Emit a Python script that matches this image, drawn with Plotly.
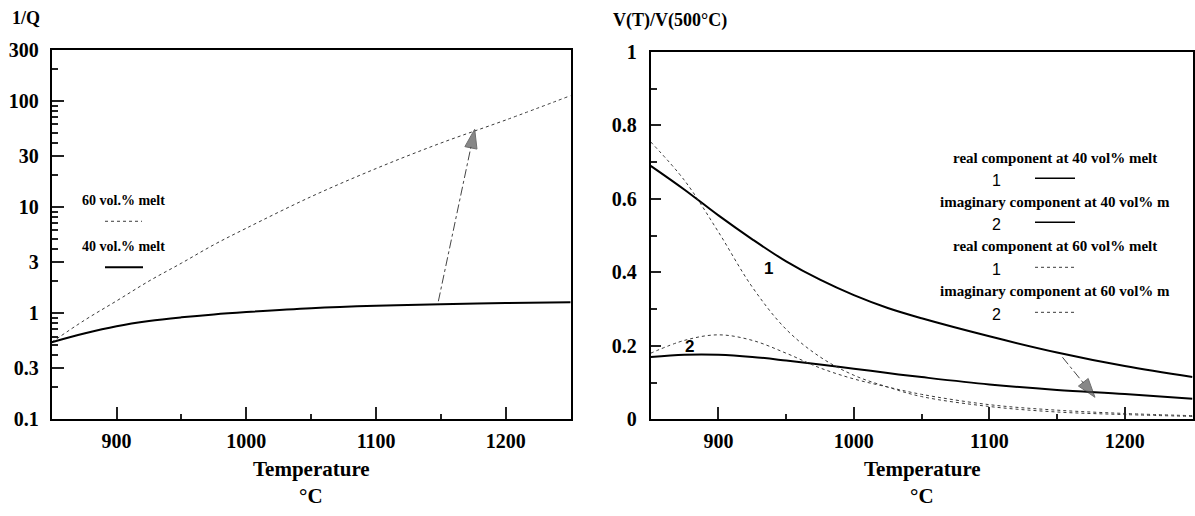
import plotly.graph_objects as go
import math

# ---------------- data ----------------
# Left panel: 1/Q versus temperature
temp_q = [850, 875, 900, 925, 950, 975, 1000, 1050, 1100, 1150, 1200, 1250]
q_melt60 = [0.53, 0.85, 1.3, 2.0, 2.95, 4.4, 6.3, 12.5, 23, 40, 66, 112]
q_melt40 = [0.53, 0.64, 0.75, 0.84, 0.91, 0.97, 1.02, 1.11, 1.17, 1.21, 1.24, 1.26]

# Right panel: V(T)/V(500°C)
temp_v = [850, 875, 900, 925, 950, 975, 1000, 1025, 1050, 1100, 1150, 1200, 1250]
real40 = [0.69, 0.625, 0.555, 0.49, 0.43, 0.38, 0.338, 0.303, 0.275, 0.226, 0.182, 0.145, 0.115]
imag40 = [0.170, 0.176, 0.176, 0.170, 0.160, 0.149, 0.138, 0.126, 0.115, 0.095, 0.080, 0.069, 0.056]
real60 = [0.755, 0.65, 0.51, 0.36, 0.245, 0.17, 0.12, 0.088, 0.062, 0.035, 0.020, 0.013, 0.008]
imag60 = [0.18, 0.215, 0.23, 0.215, 0.18, 0.14, 0.11, 0.088, 0.068, 0.040, 0.025, 0.016, 0.010]

# arrows (tail -> tip), data units
arrow_q_T = [1148, 1176]
arrow_q_v = [1.29, 54]
arrow_v_T = [1154, 1178]
arrow_v_v = [0.169, 0.06]

# tick labels
q_ticks = [0.1, 0.3, 1, 3, 10, 30, 100, 300]
q_ticktext = ["0.1", "0.3", "1", "3", "10", "30", "100", "300"]
q_minor = [0.2, 0.4, 0.5, 0.6, 0.7, 0.8, 0.9, 2, 4, 5, 6, 7, 8, 9,
           20, 40, 50, 60, 70, 80, 90, 200]
t_ticks = [900, 1000, 1100, 1200]
t_minor = [950, 1050, 1150]
v_ticks = [0, 0.2, 0.4, 0.6, 0.8, 1]
v_ticktext = ["0", "0.2", "0.4", "0.6", "0.8", "1"]
v_minor = [0.1, 0.3, 0.5, 0.7, 0.9]

W, H = 1195, 516
SERIF = "Liberation Serif, Times New Roman, serif"
SANS = "Liberation Sans, Arial, sans-serif"


def px(x):
    return x / W


def py(y):
    # y in target picture pixels; compensates the observed vertical mapping of the render
    yf = (y - 10.8) / 0.957
    return 1 - yf / H


fig = go.Figure()
solid = dict(color="black", width=2)
dotted = dict(color="#3a3a3a", width=1, dash="dot")

fig.add_trace(go.Scatter(x=temp_q, y=q_melt60, mode="lines", line=dotted,
                         line_shape="spline", xaxis="x", yaxis="y", name="60 vol.% melt"))
fig.add_trace(go.Scatter(x=temp_q, y=q_melt40, mode="lines", line=solid,
                         line_shape="spline", xaxis="x", yaxis="y", name="40 vol.% melt"))
fig.add_trace(go.Scatter(x=temp_v, y=real40, mode="lines", line=solid, line_shape="spline",
                         xaxis="x2", yaxis="y2", name="real component at 40 vol% melt"))
fig.add_trace(go.Scatter(x=temp_v, y=imag40, mode="lines", line=solid, line_shape="spline",
                         xaxis="x2", yaxis="y2", name="imaginary component at 40 vol% m"))
fig.add_trace(go.Scatter(x=temp_v, y=real60, mode="lines", line=dotted, line_shape="spline",
                         xaxis="x2", yaxis="y2", name="real component at 60 vol% melt"))
fig.add_trace(go.Scatter(x=temp_v, y=imag60, mode="lines", line=dotted, line_shape="spline",
                         xaxis="x2", yaxis="y2", name="imaginary component at 60 vol% m"))

# arrows: dash-dot shaft with a filled arrow marker at the tip
arrow_line = dict(color="#444", width=1, dash="dashdot")
arrow_marker = dict(symbol="arrow", size=[0, 20], angleref="previous", color="#555",
                    line=dict(color="#333", width=1))
fig.add_trace(go.Scatter(x=arrow_q_T, y=arrow_q_v, mode="lines+markers", line=arrow_line,
                         marker=arrow_marker, xaxis="x", yaxis="y"))
fig.add_trace(go.Scatter(x=arrow_v_T, y=arrow_v_v, mode="lines+markers", line=arrow_line,
                         marker=arrow_marker, xaxis="x2", yaxis="y2"))

tickfont = dict(family=SERIF, size=20, color="black", weight="bold")
axis_common = dict(showline=True, linewidth=2, linecolor="black", mirror=True,
                   showgrid=False, zeroline=False, ticks="inside", tickcolor="#222",
                   tickwidth=1.5, tickfont=tickfont)

fig.update_layout(
    width=W, height=H,
    margin=dict(l=0, r=0, t=0, b=0),
    paper_bgcolor="white", plot_bgcolor="white",
    showlegend=False,
    xaxis=dict(domain=[px(51.7), px(570.7)], range=[850, 1250], anchor="y",
               tickmode="array", tickvals=t_ticks, ticklen=12, ticklabelstandoff=3,
               minor=dict(tickmode="array", tickvals=t_minor, ticks="inside", ticklen=5,
                          tickcolor="#222", tickwidth=1.5),
               **axis_common),
    yaxis=dict(domain=[py(418.7), py(50)], type="log", range=[-1, math.log10(300)],
               anchor="x", tickmode="array", tickvals=q_ticks, ticktext=q_ticktext,
               ticklen=12, ticklabelstandoff=7,
               minor=dict(tickmode="array", tickvals=q_minor, ticks="inside", ticklen=6,
                          tickcolor="#222", tickwidth=1.5),
               **axis_common),
    xaxis2=dict(domain=[px(650.7), px(1192.5)], range=[850, 1250], anchor="y2",
                tickmode="array", tickvals=t_ticks, ticklen=12, ticklabelstandoff=3,
                minor=dict(tickmode="array", tickvals=t_minor, ticks="inside", ticklen=5,
                           tickcolor="#222", tickwidth=1.5),
                **axis_common),
    yaxis2=dict(domain=[py(419), py(51.7)], range=[0, 1], anchor="x2",
                tickmode="array", tickvals=v_ticks, ticktext=v_ticktext,
                ticklen=10, ticklabelstandoff=8,
                minor=dict(tickmode="array", tickvals=v_minor, ticks="inside", ticklen=6,
                           tickcolor="#222", tickwidth=1.5),
                **axis_common),
)

ann = []


def text(x, y, s, size, family=SERIF, bold=True, xanchor="center"):
    ann.append(dict(x=px(x), y=py(y), xref="paper", yref="paper", text=s, showarrow=False,
                    xanchor=xanchor, yanchor="middle",
                    font=dict(family=family, size=size, color="black",
                              weight="bold" if bold else "normal")))


# axis titles
text(10, 18, "1/Q", 18, xanchor="left")
text(611, 20, "V(T)/V(500°C)", 18, xanchor="left")
for cx in (311, 922):
    text(cx, 469, "Temperature", 21)
    # degree-Celsius unit kept as low as the page allows
    ann.append(dict(x=px(cx), y=1 - 507 / H, xref="paper", yref="paper", text="°C",
                    showarrow=False, xanchor="center", yanchor="middle",
                    font=dict(family=SERIF, size=21, color="black", weight="bold")))

# left legend
text(123, 200, "60 vol.% melt", 14)
text(123, 246, "40 vol.% melt", 14)

# right legend
leg_rows = [("real component at 40 vol% melt", "1", 158, 178),
            ("imaginary component at 40 vol% m", "2", 202, 222),
            ("real component at 60 vol% melt", "1", 246, 267),
            ("imaginary component at 60 vol% m", "2", 291, 312)]
for label, num, ty, ly in leg_rows:
    text(1055, ty, label, 15)
    text(996, ly + 2, num, 16, family=SANS, bold=False)

# curve labels
for lx, ly, s in [(936.6, 0.41, "1"), (879, 0.199, "2")]:
    ann.append(dict(x=lx, y=ly, xref="x2", yref="y2", text=s, showarrow=False,
                    font=dict(family=SANS, size=17, color="black", weight="bold")))
fig.update_layout(annotations=ann)

# legend line samples
shapes = [
    dict(type="line", xref="paper", yref="paper", x0=px(105), x1=px(142), y0=py(221), y1=py(221),
         line=dict(color="#3a3a3a", width=1, dash="dot")),
    dict(type="line", xref="paper", yref="paper", x0=px(105), x1=px(143), y0=py(267), y1=py(267),
         line=dict(color="black", width=2)),
]
for (_, _, _, ly), style in zip(leg_rows, ["solid", "solid", "dot", "dot"]):
    shapes.append(dict(type="line", xref="paper", yref="paper", x0=px(1035), x1=px(1075),
                       y0=py(ly), y1=py(ly),
                       line=dict(color="black" if style == "solid" else "#3a3a3a",
                                 width=1.5 if style == "solid" else 1, dash=style)))
fig.update_layout(shapes=shapes)

fig.write_html("out.html")
